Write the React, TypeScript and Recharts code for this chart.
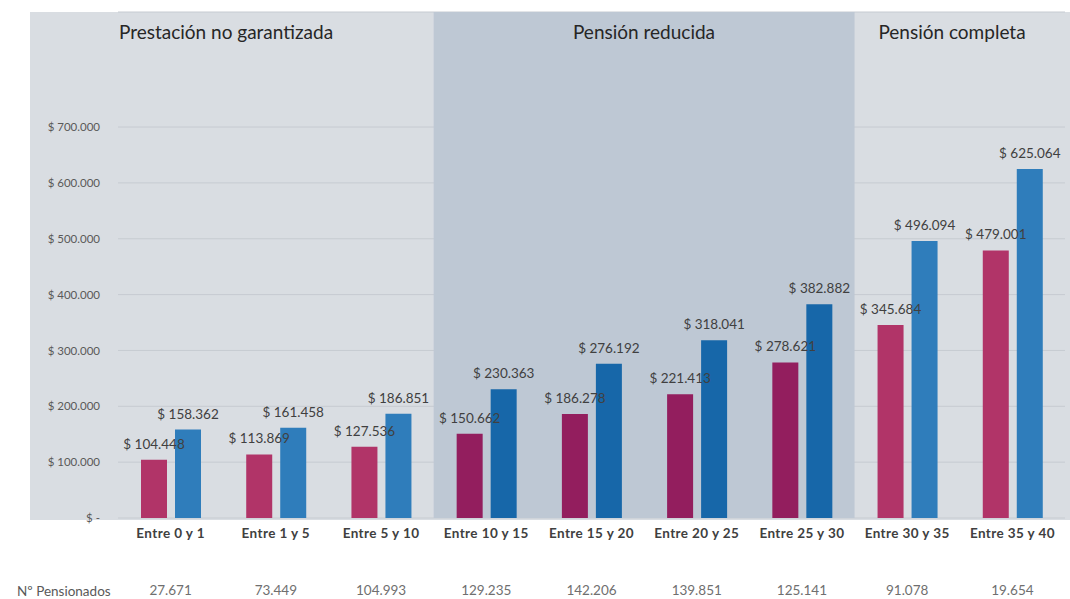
import { BarChart, Bar, XAxis, YAxis, CartesianGrid, ReferenceArea, LabelList, Cell } from 'recharts';

// tramos de años cotizados
const categories = [
  'Entre 0 y 1', 'Entre 1 y 5', 'Entre 5 y 10', 'Entre 10 y 15', 'Entre 15 y 20',
  'Entre 20 y 25', 'Entre 25 y 30', 'Entre 30 y 35', 'Entre 35 y 40',
];
const serieRosa = [104448, 113869, 127536, 150662, 186278, 221413, 278621, 345684, 479001];
const serieAzul = [158362, 161458, 186851, 230363, 276192, 318041, 382882, 496094, 625064];
const pensionados = [27671, 73449, 104993, 129235, 142206, 139851, 125141, 91078, 19654];
const yTicks = [0, 100000, 200000, 300000, 400000, 500000, 600000, 700000];
const segmentTitles = ['Prestación no garantizada', 'Pensión reducida', 'Pensión completa'];
const reducedFrom = 'Entre 10 y 15';
const reducedTo = 'Entre 25 y 30';

const data = categories.map((c, i) => ({
  tramo: c,
  rosa: serieRosa[i],
  azul: serieAzul[i],
  pensionados: pensionados[i],
}));

const iFrom = categories.indexOf(reducedFrom);
const iTo = categories.indexOf(reducedTo);
const inBand = (i: number) => i >= iFrom && i <= iTo;

const dots = (v: number) => String(v).replace(/\B(?=(\d{3})+(?!\d))/g, '.');
const money = (v: any) => (Number(v) === 0 ? '$ -' : '$ ' + dots(Number(v)));

const FONT = 'Lato, "Open Sans", sans-serif';

const headerStyle = (cx: number): React.CSSProperties => ({
  position: 'absolute',
  left: cx,
  top: 20,
  transform: 'translateX(-50%)',
  fontSize: 19,
  color: '#262626',
  whiteSpace: 'nowrap',
  pointerEvents: 'none',
});

const valueLabel = (p: any) => (
  <text
    x={Number(p.x) + Number(p.width) / 2}
    y={Number(p.y) - 11}
    textAnchor="middle"
    fill="#404040"
    fontSize={13.5}
    fontFamily={FONT}
  >
    {money(p.value)}
  </text>
);

export default function App() {
  const headerX = [226, 644, 952];
  return (
    <div style={{ position: 'absolute', left: 0, top: 0, width: 1070, height: 599, background: '#fff', fontFamily: FONT }}>
      <div style={{ position: 'absolute', left: 30, top: 12, width: 1040, height: 508, background: '#d9dde2' }} />
      <div style={{ position: 'absolute', left: 0, top: 0 }}>
        <BarChart
          width={1070}
          height={599}
          data={data}
          margin={{ top: 12, right: 5, bottom: 0, left: 0 }}
          barGap={8}
        >
          <ReferenceArea x1={reducedFrom} x2={reducedTo} fill="#bec8d4" fillOpacity={1} stroke="none" />
          <CartesianGrid vertical={false} stroke="#c6cbd1" />
          <YAxis
            width={118}
            domain={[0, 906000]}
            ticks={yTicks}
            tickFormatter={money}
            axisLine={false}
            tickLine={false}
            tick={{ fill: '#595959', fontSize: 11.5, dx: -10 }}
          />
          <XAxis
            dataKey="tramo"
            height={40}
            axisLine={false}
            tickLine={false}
            tickSize={0}
            tickMargin={10}
            tick={{ fill: '#404040', fontSize: 13.5, fontWeight: 'bold', letterSpacing: 0.4 }}
          />
          <XAxis
            xAxisId="n"
            dataKey="pensionados"
            height={41}
            axisLine={false}
            tickLine={false}
            tickSize={0}
            tickMargin={27}
            tickFormatter={(v: any) => dots(Number(v))}
            tick={{ fill: '#6f6f6f', fontSize: 13.5 }}
          />
          <Bar dataKey="rosa" barSize={26} isAnimationActive={false}>
            {data.map((_, i) => (
              <Cell key={i} fill={inBand(i) ? '#931e5e' : '#b13468'} />
            ))}
            <LabelList dataKey="rosa" content={valueLabel} />
          </Bar>
          <Bar dataKey="azul" barSize={26} isAnimationActive={false}>
            {data.map((_, i) => (
              <Cell key={i} fill={inBand(i) ? '#1767a9' : '#2f7dbb'} />
            ))}
            <LabelList dataKey="azul" content={valueLabel} />
          </Bar>
        </BarChart>
      </div>
      {segmentTitles.map((t, i) => (
        <div key={t} style={headerStyle(headerX[i])}>{t}</div>
      ))}
      <div style={{ position: 'absolute', left: 17, top: 583, fontSize: 13.5, color: '#595959', whiteSpace: 'nowrap' }}>
        Nº Pensionados
      </div>
    </div>
  );
}
